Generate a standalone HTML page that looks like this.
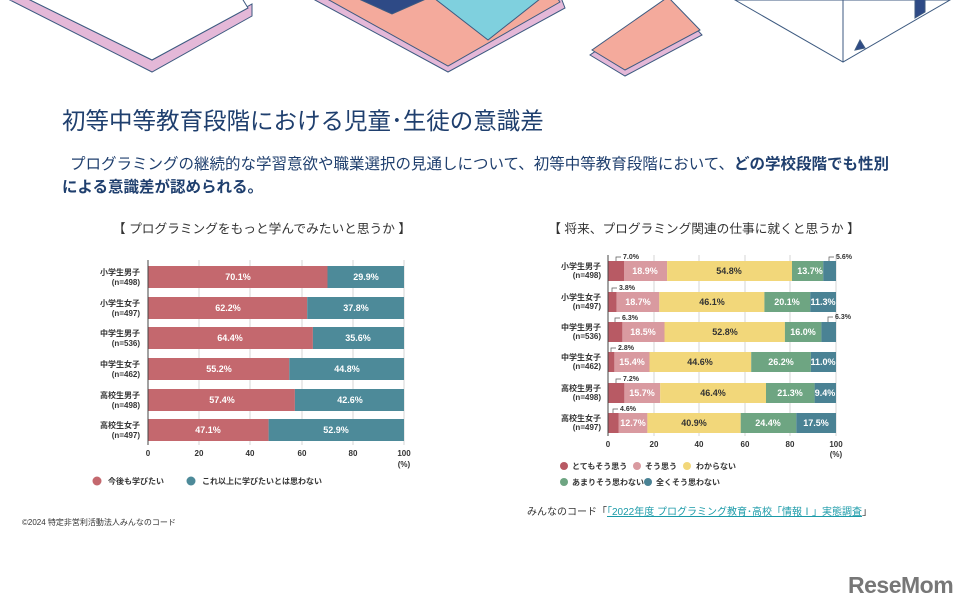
<!DOCTYPE html>
<html><head><meta charset="utf-8"><style>
body{margin:0;background:#fff;}
svg{display:block;font-family:"Liberation Sans","Noto Sans CJK JP",sans-serif;}
.w{fill:#fff;font-weight:bold;font-size:9px;text-anchor:middle}
.d{fill:#333;font-weight:bold;font-size:9px;text-anchor:middle}
.rl{fill:#333;font-weight:bold;font-size:8px;text-anchor:end}
.ax{fill:#333;font-weight:bold;font-size:8px;text-anchor:middle}
.lg{fill:#333;font-weight:bold;font-size:8px}
.co{fill:#333;font-weight:bold;font-size:7px}
</style></head><body>
<svg width="959" height="607" viewBox="0 0 959 607">
<g stroke="#3d5a80" stroke-width="1">
<polygon points="10,0 152,72 252,16 252,4 152,60 20,-5" fill="#e4b8d8"/>
<polygon points="20,-5 152,60 248,8 240,-5" fill="#fff"/>
<polygon points="315,0 448,72 565,8 560,-5 320,-5" fill="#e4b8d8"/>
<polygon points="320,-5 448,66 560,2 555,-5" fill="#f4aa9c"/>
<polygon points="350,-5 392,14 435,-5" fill="#2e4a86"/>
<polygon points="430,-5 488,40 545,-5" fill="#7fd0de"/>
<polygon points="590,55 625,76 702,35 670,0" fill="#e4b8d8"/>
<polygon points="592,50 625,70 700,30 668,-3" fill="#f4aa9c"/>
<polygon points="735,0 843,62 950,0" fill="#fff"/>
<line x1="843" y1="0" x2="843" y2="62"/>
<polygon points="855,50 860,40 865,48" fill="#2e4a86"/>
<polygon points="915,18 925,12 925,-5 915,-5" fill="#2e4a86"/>
</g>
<text x="62" y="129" font-size="23.5" fill="#1f3f6e">初等中等教育段階における児童･生徒の意識差</text>
<text x="70" y="169" font-size="15.5" fill="#1f3f6e">プログラミングの継続的な学習意欲や職業選択の見通しについて、初等中等教育段階において、<tspan font-weight="bold">どの学校段階でも性別</tspan></text>
<text x="62" y="192" font-size="15.5" fill="#1f3f6e" font-weight="bold">による意識差が認められる。</text>
<text x="262" y="233" font-size="12.7" fill="#333" text-anchor="middle">【 プログラミングをもっと学んでみたいと思うか 】</text>
<text x="704" y="233" font-size="12.7" fill="#333" text-anchor="middle">【 将来、プログラミング関連の仕事に就くと思うか 】</text>

<g stroke="#ccc" stroke-width="0.8"><line x1="199" y1="260" x2="199" y2="445"/><line x1="250" y1="260" x2="250" y2="445"/><line x1="302" y1="260" x2="302" y2="445"/><line x1="353" y1="260" x2="353" y2="445"/><line x1="404" y1="260" x2="404" y2="445"/></g>
<g fill="#c4686e">
<rect x="148" y="266" width="179.5" height="22"/><rect x="148" y="297" width="159.2" height="22"/><rect x="148" y="327" width="164.9" height="22"/><rect x="148" y="358" width="141.3" height="22"/><rect x="148" y="389" width="146.9" height="22"/><rect x="148" y="419" width="120.6" height="22"/></g>
<g fill="#4d8a99">
<rect x="327.5" y="266" width="76.5" height="22"/><rect x="307.2" y="297" width="96.8" height="22"/><rect x="312.9" y="327" width="91.1" height="22"/><rect x="289.3" y="358" width="114.7" height="22"/><rect x="294.9" y="389" width="109.1" height="22"/><rect x="268.6" y="419" width="135.4" height="22"/></g>
<line x1="148" y1="260" x2="148" y2="445" stroke="#444" stroke-width="1"/>
<text class="w" x="238" y="280">70.1%</text><text class="w" x="366" y="280">29.9%</text>
<text class="w" x="228" y="311">62.2%</text><text class="w" x="356" y="311">37.8%</text>
<text class="w" x="230" y="341">64.4%</text><text class="w" x="358" y="341">35.6%</text>
<text class="w" x="219" y="372">55.2%</text><text class="w" x="347" y="372">44.8%</text>
<text class="w" x="222" y="403">57.4%</text><text class="w" x="350" y="403">42.6%</text>
<text class="w" x="208" y="433">47.1%</text><text class="w" x="336" y="433">52.9%</text>
<g class="rl">
<text x="140" y="275">小学生男子</text><text x="140" y="285">(n=498)</text>
<text x="140" y="306">小学生女子</text><text x="140" y="316">(n=497)</text>
<text x="140" y="336">中学生男子</text><text x="140" y="346">(n=536)</text>
<text x="140" y="367">中学生女子</text><text x="140" y="377">(n=462)</text>
<text x="140" y="398">高校生男子</text><text x="140" y="408">(n=498)</text>
<text x="140" y="428">高校生女子</text><text x="140" y="438">(n=497)</text></g>
<g class="ax"><text x="148" y="456">0</text><text x="199" y="456">20</text><text x="250" y="456">40</text><text x="302" y="456">60</text><text x="353" y="456">80</text><text x="404" y="456">100</text><text x="404" y="467">(%)</text></g>
<circle cx="97" cy="481" r="4.5" fill="#c4686e"/><text class="lg" x="108" y="484">今後も学びたい</text>
<circle cx="191" cy="481" r="4.5" fill="#4d8a99"/><text class="lg" x="202" y="484">これ以上に学びたいとは思わない</text>

<g stroke="#ccc" stroke-width="0.8"><line x1="654" y1="255" x2="654" y2="436"/><line x1="699" y1="255" x2="699" y2="436"/><line x1="745" y1="255" x2="745" y2="436"/><line x1="790" y1="255" x2="790" y2="436"/><line x1="836" y1="255" x2="836" y2="436"/></g>
<g>
<rect x="608" y="261" width="16" height="20" fill="#b85a64"/><rect x="624" y="261" width="43.1" height="20" fill="#d99aa0"/><rect x="667.1" y="261" width="124.9" height="20" fill="#f2d77a"/><rect x="792" y="261" width="31.2" height="20" fill="#6ea582"/><rect x="823.2" y="261" width="12.8" height="20" fill="#4a8294"/>
<rect x="608" y="292" width="8.7" height="20" fill="#b85a64"/><rect x="616.7" y="292" width="42.6" height="20" fill="#d99aa0"/><rect x="659.3" y="292" width="105.1" height="20" fill="#f2d77a"/><rect x="764.4" y="292" width="45.8" height="20" fill="#6ea582"/><rect x="810.2" y="292" width="25.8" height="20" fill="#4a8294"/>
<rect x="608" y="322" width="14.4" height="20" fill="#b85a64"/><rect x="622.4" y="322" width="42.1" height="20" fill="#d99aa0"/><rect x="664.5" y="322" width="120.4" height="20" fill="#f2d77a"/><rect x="784.9" y="322" width="36.5" height="20" fill="#6ea582"/><rect x="821.4" y="322" width="14.6" height="20" fill="#4a8294"/>
<rect x="608" y="352" width="6.4" height="20" fill="#b85a64"/><rect x="614.4" y="352" width="35.1" height="20" fill="#d99aa0"/><rect x="649.5" y="352" width="101.7" height="20" fill="#f2d77a"/><rect x="751.2" y="352" width="59.7" height="20" fill="#6ea582"/><rect x="810.9" y="352" width="25.1" height="20" fill="#4a8294"/>
<rect x="608" y="383" width="16.4" height="20" fill="#b85a64"/><rect x="624.4" y="383" width="35.8" height="20" fill="#d99aa0"/><rect x="660.2" y="383" width="105.8" height="20" fill="#f2d77a"/><rect x="766" y="383" width="48.6" height="20" fill="#6ea582"/><rect x="814.6" y="383" width="21.4" height="20" fill="#4a8294"/>
<rect x="608" y="413" width="10.5" height="20" fill="#b85a64"/><rect x="618.5" y="413" width="28.9" height="20" fill="#d99aa0"/><rect x="647.4" y="413" width="93.3" height="20" fill="#f2d77a"/><rect x="740.7" y="413" width="55.6" height="20" fill="#6ea582"/><rect x="796.3" y="413" width="39.7" height="20" fill="#4a8294"/>
</g>
<line x1="608" y1="255" x2="608" y2="436" stroke="#444"/>
<g class="w" font-size="8.5">
<text x="645" y="274">18.9%</text><text x="810" y="274">13.7%</text>
<text x="638" y="305">18.7%</text><text x="787" y="305">20.1%</text><text x="823" y="305">11.3%</text>
<text x="643" y="335">18.5%</text><text x="803" y="335">16.0%</text>
<text x="632" y="365">15.4%</text><text x="781" y="365">26.2%</text><text x="823" y="365">11.0%</text>
<text x="642" y="396">15.7%</text><text x="790" y="396">21.3%</text><text x="825" y="396">9.4%</text>
<text x="633" y="426">12.7%</text><text x="768" y="426">24.4%</text><text x="816" y="426">17.5%</text></g>
<g class="d" font-size="8.5">
<text x="729" y="274">54.8%</text><text x="712" y="305">46.1%</text><text x="725" y="335">52.8%</text><text x="700" y="365">44.6%</text><text x="713" y="396">46.4%</text><text x="694" y="426">40.9%</text></g>
<g stroke="#555" stroke-width="0.7" fill="none">
<polyline points="616,261 616,257 621,257"/><polyline points="612,292 612,288 617,288"/><polyline points="615,322 615,318 620,318"/><polyline points="611,352 611,348 616,348"/><polyline points="616,383 616,379 621,379"/><polyline points="613,413 613,409 618,409"/>
<polyline points="829,261 829,257 834,257"/><polyline points="828,322 828,317 833,317"/></g>
<g class="co">
<text x="623" y="259">7.0%</text><text x="619" y="290">3.8%</text><text x="622" y="320">6.3%</text><text x="618" y="350">2.8%</text><text x="623" y="381">7.2%</text><text x="620" y="411">4.6%</text>
<text x="836" y="259">5.6%</text><text x="835" y="319">6.3%</text></g>
<g class="rl" font-size="7.5">
<text x="601" y="269">小学生男子</text><text x="601" y="278">(n=498)</text>
<text x="601" y="300">小学生女子</text><text x="601" y="309">(n=497)</text>
<text x="601" y="330">中学生男子</text><text x="601" y="339">(n=536)</text>
<text x="601" y="360">中学生女子</text><text x="601" y="369">(n=462)</text>
<text x="601" y="391">高校生男子</text><text x="601" y="400">(n=498)</text>
<text x="601" y="421">高校生女子</text><text x="601" y="430">(n=497)</text></g>
<g class="ax"><text x="608" y="447">0</text><text x="654" y="447">20</text><text x="699" y="447">40</text><text x="745" y="447">60</text><text x="790" y="447">80</text><text x="836" y="447">100</text><text x="836" y="457">(%)</text></g>
<circle cx="564" cy="466" r="4" fill="#b85a64"/><text class="lg" x="572" y="469" font-size="7">とてもそう思う</text>
<circle cx="637" cy="466" r="4" fill="#d99aa0"/><text class="lg" x="645" y="469" font-size="7">そう思う</text>
<circle cx="687" cy="466" r="4" fill="#f2d77a"/><text class="lg" x="696" y="469" font-size="7">わからない</text>
<circle cx="564" cy="482" r="4" fill="#6ea582"/><text class="lg" x="572" y="485" font-size="7">あまりそう思わない</text>
<circle cx="648" cy="482" r="4" fill="#4a8294"/><text class="lg" x="656" y="485" font-size="7">全くそう思わない</text>

<text x="527" y="515" font-size="10" fill="#333">みんなのコード「<tspan fill="#1a9aa8" text-decoration="underline">「2022年度 プログラミング教育･高校「情報Ⅰ」実態調査</tspan>」</text>
<text x="22" y="525" font-size="8" fill="#333">©2024 特定非営利活動法人みんなのコード</text>
<text x="848" y="593" font-size="23" font-weight="bold" fill="#777" letter-spacing="-0.5">ReseMom</text>
</svg>
</body></html>
